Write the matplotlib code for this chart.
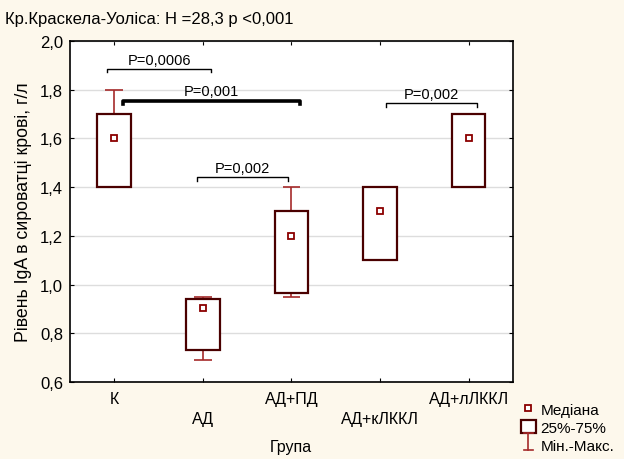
import matplotlib
matplotlib.use("Agg")
import matplotlib.pyplot as plt
from matplotlib.lines import Line2D
from matplotlib.patches import Rectangle
from matplotlib.legend_handler import HandlerBase

plt.rcParams['font.family'] = ['Liberation Sans', 'DejaVu Sans']

groups = ["К", "АД", "АД+ПД", "АД+кЛККЛ", "АД+лЛККЛ"]
medians = [1.6, 0.905, 1.2, 1.3, 1.6]
q1 = [1.4, 0.73, 0.965, 1.1, 1.4]
q3 = [1.7, 0.94, 1.3, 1.4, 1.7]
mins = [1.4, 0.69, 0.95, 1.1, 1.4]
maxs = [1.8, 0.95, 1.4, 1.4, 1.7]

# (from, to, height, label, thick)
brackets = [
    (0.92, 2.09, 1.885, "P=0,0006", False),
    (1.10, 3.10, 1.755, "P=0,001", True),
    (1.93, 2.96, 1.44, "P=0,002", False),
    (4.07, 5.10, 1.745, "P=0,002", False),
]

bg = "#fdf8ec"
box_c = "#4a0000"
wh_c = "#a52a2a"

fig = plt.figure(figsize=(6.24, 4.60), dpi=100, facecolor=bg)
ax = fig.add_axes([0.1122, 0.1674, 0.7098, 0.7413])
ax.set_facecolor("white")

x = list(range(1, len(groups) + 1))
ax.vlines(x, q3, maxs, color=wh_c, lw=1.2, zorder=2)
ax.vlines(x, mins, q1, color=wh_c, lw=1.2, zorder=2)
ax.hlines(maxs, [i - 0.1 for i in x], [i + 0.1 for i in x], color=wh_c, lw=1.2, zorder=2)
ax.hlines(mins, [i - 0.1 for i in x], [i + 0.1 for i in x], color=wh_c, lw=1.2, zorder=2)
ax.bar(x, [b - a for a, b in zip(q1, q3)], bottom=q1, width=0.38,
       color="white", edgecolor=box_c, linewidth=1.6, zorder=3)
ax.plot(x, medians, ls="none", marker="s", ms=4.5, mfc="white",
        mec="#8b0000", mew=1.3, zorder=4)

for a, b, h, lab, thick in brackets:
    d = 0.014
    ax.plot([a, a, b, b], [h - d, h, h, h - d], color="black",
            lw=2.6 if thick else 1.0, solid_joinstyle="round", zorder=5)
    ax.text((a + b) / 2, h + 0.01, lab, ha="center", va="bottom", fontsize=10.5)

ax.set_xlim(0.5, 5.5)
ax.set_ylim(0.6, 2.0)
ax.set_yticks([0.6, 0.8, 1.0, 1.2, 1.4, 1.6, 1.8, 2.0])
ax.set_yticklabels(["0,6", "0,8", "1,0", "1,2", "1,4", "1,6", "1,8", "2,0"], fontsize=12)
ax.set_xticks(x)
ax.set_xticklabels([])
for i, g in enumerate(groups):
    ax.text(x[i], -0.047 if i % 2 == 0 else -0.107, g, transform=ax.get_xaxis_transform(),
            ha="center", va="center", fontsize=11.5)
ax.tick_params(direction="in", length=3, top=True, right=True, pad=5)
ax.grid(axis="y", color="#dddddd", lw=1)
ax.set_axisbelow(True)
for s in ax.spines.values():
    s.set_linewidth(1.2)

ax.set_ylabel("Рівень IgA в сироватці крові, г/л", fontsize=12.8, labelpad=6)
fig.text(0.466, 0.028, "Група", ha="center", va="center", fontsize=11.5)
fig.text(0.008, 0.958, "Кр.Краскела-Уоліса: H =28,3 p <0,001", ha="left", va="center", fontsize=12)


class WhiskerHandler(HandlerBase):
    def create_artists(self, legend, orig, xd, yd, w, h, fs, trans):
        cx = xd + w / 2
        c = 0.3 * w
        return [Line2D([cx, cx], [yd - 1, yd + h + 1], color=wh_c, lw=1.2, transform=trans),
                Line2D([cx - c, cx + c], [yd - 1, yd - 1], color=wh_c, lw=1.2, transform=trans),
                Line2D([cx - c, cx + c], [yd + h + 1, yd + h + 1], color=wh_c, lw=1.2, transform=trans)]


h_med = Line2D([], [], ls="none", marker="s", ms=4.5, mfc="white", mec="#8b0000", mew=1.3)
h_box = Rectangle((0, 0), 1, 1, facecolor="white", edgecolor=box_c, lw=1.6)
h_wh = Line2D([], [])
fig.legend([h_med, h_box, h_wh], ["Медіана", "25%-75%", "Мін.-Макс."],
           handler_map={h_wh: WhiskerHandler()}, loc="upper left",
           bbox_to_anchor=(0.82, 0.145), frameon=False, fontsize=11,
           handlelength=1.0, handleheight=1.0, handletextpad=0.3,
           labelspacing=0.2, borderpad=0.1)

fig.savefig("out.png", dpi=100, facecolor=bg)
